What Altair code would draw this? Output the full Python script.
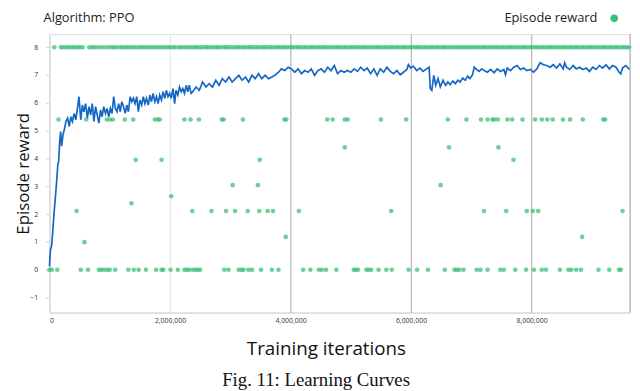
import altair as alt
import pandas as pd

# ---------------- data (x in millions of training iterations) ----------------
curve_x = [
    0.0, 0.016, 0.038, 0.06, 0.077, 0.098, 0.12, 0.137, 0.153, 0.17, 0.186, 0.202, 0.224, 0.246,
    0.273, 0.30, 0.328, 0.355, 0.38, 0.41, 0.437, 0.464, 0.49, 0.519, 0.546, 0.57, 0.60, 0.628,
    0.655, 0.683, 0.71, 0.737, 0.765, 0.792, 0.82, 0.847, 0.874, 0.90, 0.93, 0.956, 0.984, 1.01,
    1.038, 1.066, 1.093, 1.12, 1.148, 1.175, 1.20, 1.23, 1.257, 1.284, 1.31, 1.339, 1.366, 1.393,
    1.42, 1.448, 1.475, 1.50, 1.53, 1.557, 1.585, 1.61, 1.64, 1.667, 1.694, 1.72, 1.75, 1.776,
    1.803, 1.83, 1.858, 1.885, 1.913, 1.94, 1.967, 1.995, 2.02, 2.05, 2.077, 2.10, 2.13, 2.158,
    2.186, 2.213, 2.24, 2.268, 2.295, 2.32, 2.35, 2.377,
    2.432, 2.486, 2.541, 2.596, 2.65, 2.705, 2.76, 2.814, 2.869, 2.923, 2.978, 3.033, 3.087,
    3.142, 3.197, 3.251, 3.306, 3.36, 3.415, 3.47, 3.52, 3.58, 3.634, 3.689, 3.74, 3.80, 3.85,
    3.907, 3.96, 4.016, 4.07, 4.126, 4.18, 4.235, 4.29, 4.344, 4.40, 4.454, 4.508, 4.563, 4.618,
    4.672, 4.727, 4.78, 4.836, 4.89,
    4.945, 5.0, 5.055, 5.11, 5.164, 5.22, 5.273, 5.33, 5.383, 5.437, 5.49, 5.546, 5.60, 5.656,
    5.71, 5.765, 5.82, 5.874, 5.93, 5.956, 5.995, 6.038, 6.093, 6.148, 6.20, 6.257, 6.30, 6.32,
    6.345, 6.377, 6.41, 6.448, 6.486, 6.53, 6.574, 6.612, 6.65, 6.694, 6.737, 6.776, 6.814,
    6.858, 6.90, 6.94, 6.978, 7.02, 7.049, 7.087, 7.13, 7.175,
    7.213, 7.268, 7.322, 7.377, 7.43, 7.486, 7.54, 7.568, 7.596, 7.65, 7.705, 7.76, 7.814,
    7.869, 7.923, 7.978, 8.033, 8.087, 8.142, 8.197, 8.25, 8.306, 8.36, 8.415, 8.47, 8.525,
    8.55, 8.58, 8.634, 8.69, 8.743, 8.798, 8.85, 8.907, 8.96, 9.016, 9.07, 9.126, 9.18, 9.235,
    9.29, 9.344, 9.40, 9.454, 9.48, 9.508, 9.563, 9.617, 9.63,
]
curve_y = [
    0.12, 0.70, 0.89, 1.54, 2.07, 2.60, 3.20, 3.73, 3.90, 4.62, 4.97, 4.44, 4.85, 5.03,
    5.33, 5.45, 5.15, 5.50, 5.33, 5.62, 5.39, 5.80, 6.22, 5.39, 5.92, 5.68, 5.97, 5.45,
    5.86, 5.57, 5.97, 5.33, 5.86, 5.57, 5.27, 5.74, 5.50, 5.86, 5.62, 5.80, 5.50, 5.80,
    5.62, 6.22, 5.80, 5.68, 5.97, 5.68, 6.04, 5.86, 5.62, 5.92, 5.68, 6.22, 6.04, 6.16,
    5.97, 6.22, 5.68, 6.10, 5.92, 6.22, 5.97, 6.16, 5.92, 6.28, 6.04, 6.34, 6.04, 6.22,
    5.97, 6.28, 6.10, 6.40, 6.16, 6.45, 6.22, 6.34, 6.16, 6.51, 5.97, 6.45, 6.28, 6.57,
    6.40, 6.51, 6.34, 6.63, 6.40, 6.63, 6.34, 6.40,
    6.57, 6.45, 6.75, 6.57, 6.69, 6.57, 6.81, 6.63, 6.87, 6.75, 6.93, 6.75, 6.87,
    6.99, 6.81, 6.93, 6.75, 6.99, 6.87, 7.05, 6.87, 6.99, 6.87, 6.93, 6.99, 7.10, 7.22,
    7.16, 7.28, 7.22, 7.10, 7.22, 7.05, 7.16, 7.10, 7.22, 6.99, 7.16, 7.22, 7.10, 7.28,
    7.16, 7.34, 7.05, 7.16, 7.10,
    7.16, 7.10, 7.22, 7.13, 7.28, 7.16, 7.25, 7.05, 7.22, 6.99, 7.22, 7.10, 7.28, 7.13,
    7.05, 7.16, 7.01, 7.10, 7.20, 7.37, 7.25, 7.32, 7.16, 7.25, 7.13, 7.22, 7.28, 6.51,
    6.45, 6.99, 6.63, 6.87, 6.57, 6.81, 6.63, 6.75, 6.65, 6.78, 6.69, 6.81, 6.75,
    6.89, 6.81, 6.96, 6.87, 7.01, 7.28, 7.20, 7.13, 7.22,
    7.16, 7.10, 7.20, 7.08, 7.22, 7.13, 7.20, 7.01, 7.25, 7.16, 7.28, 7.34, 7.20,
    7.25, 7.16, 7.20, 7.10, 7.22, 7.44, 7.37, 7.34, 7.28, 7.37, 7.25, 7.40, 7.22,
    7.44, 7.28, 7.20, 7.34, 7.22, 7.28, 7.20, 7.25, 7.13, 7.28, 7.20, 7.34, 7.25, 7.37,
    7.22, 7.34, 7.28, 7.10, 7.04, 7.25, 7.34, 7.22, 7.24,
]

# episode rewards: one list of x positions (millions) per reward level
reward_levels = [8.0, 5.4, 4.4, 3.95, 3.04, 2.64, 2.39, 2.11, 1.18, 0.99, 0.0]
reward_8_x = [
    0.08, 0.19, 0.23, 0.28, 0.32, 0.37, 0.41, 0.46, 0.50, 0.55, 0.66, 0.71, 0.75, 0.80, 0.86,
    0.92, 0.98, 1.03, 1.07, 1.12, 1.18, 1.22, 1.27, 1.31, 1.36, 1.40, 1.45, 1.50, 1.54, 1.59,
    1.63, 1.68, 1.73, 1.77, 1.82, 1.86, 1.91, 1.96, 2.00, 2.05, 2.09, 2.15, 2.19, 2.24, 2.28,
    2.33, 2.38, 2.42, 2.46, 2.51, 2.55, 2.60, 2.63, 2.68, 2.72, 2.77, 2.80, 2.85, 2.90, 2.94,
    2.98, 3.03, 3.08, 3.12, 3.16, 3.21, 3.25, 3.30, 3.34, 3.38, 3.43, 3.47, 3.52, 3.56, 3.60,
    3.65, 3.69, 3.74, 3.78, 3.82, 3.87, 3.91, 3.95, 4.00, 4.04, 4.09, 4.13, 4.17, 4.22, 4.26,
    4.31, 4.35, 4.39, 4.44, 4.48, 4.53, 4.57, 4.61, 4.66, 4.70, 4.75, 4.79, 4.83, 4.88, 4.92,
    4.97, 5.01, 5.05, 5.10, 5.14, 5.19, 5.23, 5.27, 5.32, 5.36, 5.41, 5.45, 5.49, 5.54, 5.58,
    5.63, 5.67, 5.71, 5.76, 5.80, 5.85, 5.89, 5.93, 5.98, 6.02, 6.07, 6.11, 6.15, 6.20, 6.24,
    6.29, 6.33, 6.37, 6.42, 6.46, 6.51, 6.55, 6.59, 6.64, 6.68, 6.73, 6.77, 6.81, 6.86, 6.90,
    6.95, 6.99, 7.03, 7.08, 7.12, 7.17, 7.21, 7.25, 7.30, 7.34, 7.39, 7.43, 7.47, 7.52, 7.56,
    7.61, 7.65, 7.69, 7.74, 7.78, 7.83, 7.87, 7.91, 7.96, 8.00, 8.05, 8.09, 8.13, 8.18, 8.22,
    8.27, 8.31, 8.35, 8.40, 8.44, 8.49, 8.53, 8.57, 8.62, 8.66, 8.71, 8.75, 8.79, 8.84, 8.88,
    8.93, 8.97, 9.01, 9.06, 9.10, 9.15, 9.19, 9.23, 9.28, 9.32, 9.37, 9.41, 9.45, 9.50, 9.54,
    9.58, 9.62,
]
reward_5_4_x = [
    0.15, 0.61, 0.95, 1.0, 1.05, 1.25, 1.39, 1.75, 1.80, 1.83, 2.24, 2.34, 2.48, 2.86, 2.89,
    3.21, 3.90, 3.93, 4.61, 4.70, 4.90, 4.95, 5.50, 5.92, 6.61, 6.92, 7.16, 7.27, 7.35, 7.38,
    7.44, 7.60, 7.68, 7.85, 8.06, 8.17, 8.26, 8.35, 8.52, 8.64, 8.85, 9.19, 9.22,
]
reward_4_4_x = [4.90, 6.63, 7.45]
reward_3_95_x = [1.43, 1.86, 3.49, 7.70]
reward_3_04_x = [3.04, 3.46, 6.49]
reward_2_64_x = [2.02]
reward_2_39_x = [1.36]
reward_2_11_x = [0.45, 2.37, 2.69, 2.93, 3.08, 3.29, 3.48, 3.62, 3.71, 4.14, 5.67, 7.21, 7.58,
                 7.92, 8.02, 8.11, 9.51]
reward_1_18_x = [3.92, 8.84]
reward_0_99_x = [0.58]
reward_0_x = [
    0.0, 0.04, 0.13, 0.52, 0.64, 0.82, 0.86, 0.91, 0.96, 1.0, 1.09, 1.31, 1.40, 1.48, 1.60,
    1.77, 1.86, 1.89, 2.01, 2.13, 2.24, 2.28, 2.32, 2.38, 2.42, 2.46, 2.50, 2.90, 2.97, 3.14,
    3.19, 3.22, 3.30, 3.36, 3.51, 3.69, 3.80, 4.21, 4.33, 4.47, 4.52, 4.59, 4.76, 5.05, 5.08,
    5.12, 5.26, 5.30, 5.34, 5.46, 5.59, 5.68, 5.96, 6.10, 6.28, 6.56, 6.72, 6.76, 6.80, 6.87,
    7.09, 7.15, 7.27, 7.48, 7.54, 7.73, 7.91, 8.04, 8.17, 8.24, 8.47, 8.61, 8.66, 8.74, 8.82,
    9.11, 9.29, 9.45, 9.48,
]
reward_x_lists = [reward_8_x, reward_5_4_x, reward_4_4_x, reward_3_95_x, reward_3_04_x,
                  reward_2_64_x, reward_2_39_x, reward_2_11_x, reward_1_18_x, reward_0_99_x,
                  reward_0_x]

x_ticks = [0, 2000000, 4000000, 6000000, 8000000]
y_ticks = [-1, 0, 1, 2, 3, 4, 5, 6, 7, 8]
title_text = "Algorithm: PPO"
legend_text = "Episode reward"
caption_text = "Fig. 11: Learning Curves"

# ---------------- tables ----------------
curve_df = pd.DataFrame({"x": [v * 1e6 for v in curve_x], "y": curve_y})
rows = []
for lvl, xs_ in zip(reward_levels, reward_x_lists):
    for v in xs_:
        rows.append({"x": v * 1e6, "y": lvl})
pts_df = pd.DataFrame(rows)

W, H = 588, 282
GREEN = "#3dbf78"
BLUE = "#1467c4"
FONT = "Open Sans"

xs = alt.Scale(domain=[0, 9634000], nice=False, zero=False)
ys = alt.Scale(domain=[-1.54, 8.47], nice=False, zero=False)

x_axis = alt.Axis(
    values=x_ticks, tickCount=len(x_ticks), format=",d", title="Training iterations",
    grid=True,
    gridColor={"condition": {"test": "datum.value <= 2000000", "value": "#e6e6e6"}, "value": "#a8a8a8"},
    gridWidth=1, ticks=False, labelFontSize=7, labelColor="#333", labelPadding=4,
    labelFont=FONT, labelOverlap=False, domainColor="#d4d4d4", titleFont=FONT, titleFontSize=19,
    titleFontWeight="normal", titleColor="#111", titleX=280, titleY=36,
    titleBaseline="middle", titleAlign="center",
)
y_axis = alt.Axis(
    values=y_ticks, tickCount=len(y_ticks), title="Episode reward", grid=False, ticks=True,
    tickSize=4, tickColor="#d4d4d4", labelFontSize=7, labelColor="#333", labelPadding=8,
    labelFont=FONT, labelOverlap=False, domainColor="#d4d4d4",
    titleFont=FONT, titleFontSize=17,
    titleFontWeight="normal", titleColor="#111", titleX=-26, titleY=H / 2,
    titleBaseline="middle", titleAlign="center",
)

points = alt.Chart(pts_df).mark_circle(color=GREEN, opacity=0.75, size=22).encode(
    x=alt.X("x:Q", scale=xs, axis=x_axis),
    y=alt.Y("y:Q", scale=ys, axis=y_axis),
)
line = alt.Chart(curve_df).mark_line(color=BLUE, strokeWidth=1.7).encode(
    x=alt.X("x:Q", scale=xs),
    y=alt.Y("y:Q", scale=ys),
)
right_border = alt.Chart(pd.DataFrame({"a": [0]})).mark_rule(color="#a8a8a8").encode(
    x=alt.value(W), y=alt.value(0), y2=alt.value(H)
)
title = alt.Chart(pd.DataFrame({"t": [title_text]})).mark_text(
    align="left", baseline="alphabetic", fontSize=13, font=FONT, color="#222"
).encode(text="t:N", x=alt.value(-6), y=alt.value(-12))
legend_label = alt.Chart(pd.DataFrame({"t": [legend_text]})).mark_text(
    align="right", baseline="alphabetic", fontSize=13, font=FONT, color="#222"
).encode(text="t:N", x=alt.value(555), y=alt.value(-12))
legend_dot = alt.Chart(pd.DataFrame({"t": [legend_text]})).mark_circle(
    color=GREEN, opacity=1, size=60
).encode(x=alt.value(572), y=alt.value(-16))
caption = alt.Chart(pd.DataFrame({"t": [caption_text]})).mark_text(
    align="center", baseline="alphabetic", fontSize=19, font="Liberation Serif", color="#111"
).encode(text="t:N", x=alt.value(270), y=alt.value(356))

chart = alt.layer(points, line, right_border, title, legend_label, legend_dot, caption).properties(
    width=W, height=H,
    autosize=alt.AutoSizeParams(type="none"),
    padding={"left": 42, "top": 24, "right": 2, "bottom": 77},
).configure_view(stroke=None).configure(background="white")

chart.save("out.html", embed_options={"renderer": "svg", "actions": False})
